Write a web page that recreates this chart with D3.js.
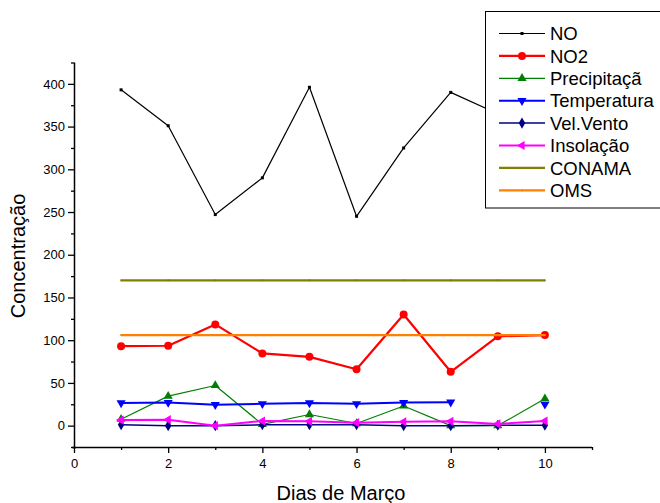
<!DOCTYPE html>
<html><head><meta charset="utf-8">
<script src="https://cdn.jsdelivr.net/npm/d3@7"></script>
<style>body{margin:0;background:#fff}svg{display:block;font-family:"Liberation Sans",Arial,sans-serif}</style>
</head><body>
<svg id="c" width="660" height="503"></svg>
<script>
const days = [1, 2, 3, 4, 5, 6, 7, 8, 9, 10];
const noVals = [393, 351, 247, 290, 396, 245, 325, 390, 365, 372];
const no2Vals = [93, 93.5, 118.5, 84.5, 80.5, 66, 130, 63, 104.5, 106];
const precipVals = [7.5, 34.5, 47, 1.5, 13, 2.5, 23, 0, 0, 31.5];
const tempVals = [26.5, 27, 24.5, 25.5, 26.5, 25.5, 27, 27.5, null, 25];
const ventoVals = [1, 0, 0, 1, 1, 1, 0, 0, 0.5, 0.5];
const insolVals = [6.5, 7, 0, 5.5, 5, 3.5, 4.5, 5, 2, 5.5];
const conamaVals = [170, 170, 170, 170, 170, 170, 170, 170, 170, 170];
const omsVals = [106, 106, 106, 106, 106, 106, 106, 106, 106, 106];
const xTicks = [0, 2, 4, 6, 8, 10];
const yTicks = [0, 50, 100, 150, 200, 250, 300, 350, 400];
const xTitle = "Dias de Março";
const yTitle = "Concentração";

const series = [
  {name: "NO", values: noVals, color: "#000000", width: 1.2, sym: d3.symbolSquare, size: 9},
  {name: "NO2", values: no2Vals, color: "#ff0000", width: 2.2, sym: d3.symbolCircle, size: 50},
  {name: "Precipitaçã", values: precipVals, color: "#008000", width: 1.2, sym: d3.symbolTriangle, size: 36},
  {name: "Temperatura", values: tempVals, color: "#0000ff", width: 2, sym: "down", size: 36},
  {name: "Vel.Vento", values: ventoVals, color: "#000080", width: 1.5, sym: d3.symbolDiamond, size: 36},
  {name: "Insolação", values: insolVals, color: "#ff00ff", width: 2, sym: "left", size: 36},
  {name: "CONAMA", values: conamaVals, color: "#808000", width: 2.2, sym: d3.symbolSquare, size: 3},
  {name: "OMS", values: omsVals, color: "#ff8000", width: 2.2, sym: d3.symbolSquare, size: 3}
];

const svg = d3.select("#c");
const x = d3.scaleLinear().domain([0, 11]).range([74, 592]);
const y = d3.scaleLinear().domain([-25, 425]).range([447, 62.5]);

function markerPath(s) {
  if (s.sym === "down") return {d: d3.symbol(d3.symbolTriangle, s.size)(), rot: 180};
  if (s.sym === "left") return {d: d3.symbol(d3.symbolTriangle, s.size)(), rot: -90};
  return {d: d3.symbol(s.sym, s.size)(), rot: 0};
}

const line = d3.line().defined(d => d[1] != null).x(d => x(d[0])).y(d => y(d[1]));
series.forEach(s => {
  const pts = days.map((d, i) => [d, s.values[i]]);
  const g = svg.append("g");
  g.append("path").attr("d", line(pts)).attr("fill", "none")
    .attr("stroke", s.color).attr("stroke-width", s.width).attr("stroke-linejoin", "round");
  const m = markerPath(s);
  g.selectAll("path.m").data(pts.filter(p => p[1] != null)).join("path").attr("class", "m")
    .attr("d", m.d).attr("fill", s.color)
    .attr("transform", p => `translate(${x(p[0])},${y(p[1])}) rotate(${m.rot})`);
});

const xAxis = d3.axisBottom(x).tickValues(xTicks).tickSize(6).tickFormat(d3.format("d"));
const gx = svg.append("g").attr("transform", "translate(0,447)").call(xAxis);
svg.append("g").attr("transform", "translate(0,447)")
  .call(d3.axisBottom(x).tickValues([1, 3, 5, 7, 9, 11]).tickSize(3).tickFormat(""))
  .select(".domain").remove();
const yAxis = d3.axisLeft(y).tickValues(yTicks).tickSize(6).tickFormat(d3.format("d"));
const gy = svg.append("g").attr("transform", "translate(74,0)").call(yAxis);
svg.append("g").attr("transform", "translate(74,0)")
  .call(d3.axisLeft(y).tickValues([-25, 25, 75, 125, 175, 225, 275, 325, 375, 425]).tickSize(3).tickFormat(""))
  .select(".domain").remove();
[gx, gy].forEach(g => {
  g.select(".domain").attr("stroke", "#000").attr("stroke-width", 1.5);
  g.selectAll(".tick text").attr("font-size", 13).attr("fill", "#000")
    .attr("font-family", "'Liberation Sans', Arial, sans-serif");
});
svg.selectAll(".tick line").attr("stroke", "#000").attr("stroke-width", 1.3);
gx.select(".domain").attr("d", "M72,0.5H592V0");
gy.select(".domain").attr("d", "M0.5,62.5V449");
gx.selectAll(".tick text").attr("dy", "0.9em");

svg.append("text").attr("x", 341).attr("y", 500).attr("text-anchor", "middle")
  .attr("font-size", 20).attr("fill", "#000").text(xTitle);
svg.append("text").attr("transform", "translate(25,256) rotate(-90)").attr("text-anchor", "middle")
  .attr("font-size", 20).attr("fill", "#000").text(yTitle);

const lg = svg.append("g");
lg.append("rect").attr("x", 485.5).attr("y", 11.5).attr("width", 190).attr("height", 196.5)
  .attr("fill", "#fff").attr("stroke", "#000").attr("stroke-width", 1);
series.forEach((s, i) => {
  const yy = 33.5 + i * 22.4;
  lg.append("line").attr("x1", 499).attr("x2", 545).attr("y1", yy).attr("y2", yy)
    .attr("stroke", s.color).attr("stroke-width", s.width);
  const m = markerPath(s);
  lg.append("path").attr("d", m.d).attr("fill", s.color)
    .attr("transform", `translate(522,${yy}) rotate(${m.rot})`);
  lg.append("text").attr("x", 550).attr("y", yy).attr("dy", "0.36em")
    .attr("font-size", 18.5).attr("fill", "#000").text(s.name);
});
</script>
</body></html>
